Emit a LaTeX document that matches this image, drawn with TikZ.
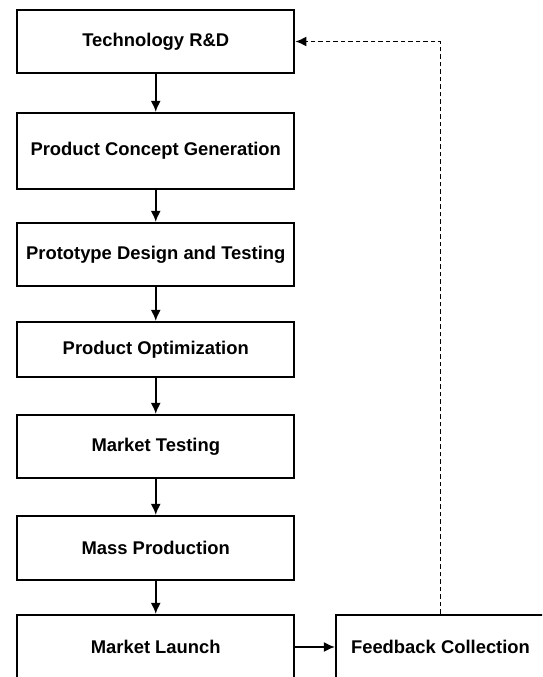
\documentclass[tikz,border=0pt]{standalone}
\usepackage{fontspec}
\setmainfont{Liberation Sans}
\usetikzlibrary{arrows.meta}

\begin{document}
\begin{tikzpicture}[x=1pt,y=-1pt,
        stage/.style={draw,line width=2.2pt,minimum width=277pt,inner sep=0pt,font=\fontsize{18.4}{22}\selectfont\bfseries},
        flow/.style={-{Latex[length=11pt,width=10pt]},line width=1.6pt},
        back/.style={flow,dash pattern=on 4.5pt off 3pt}]
        \clip (0,0) rectangle (542,677);

        \node[stage,minimum height=63pt] (RD) at (155.75,41.5) {Technology R\&D};
        \node[stage,minimum height=76pt] (CG) at (155.75,151) {Product Concept Generation};
        \node[stage,minimum height=63pt] (PD) at (155.75,254.5) {Prototype Design and Testing};
        \node[stage,minimum height=55pt] (PO) at (155.75,349.5) {Product Optimization};
        \node[stage,minimum height=63pt] (MT) at (155.75,446.5) {Market Testing};
        \node[stage,minimum height=64pt] (MP) at (155.75,548) {Mass Production};
        \node[stage,minimum height=64pt] (ML) at (155.75,647) {Market Launch};
        \node[stage,minimum height=64pt,minimum width=209pt] (FB) at (440.5,647) {Feedback Collection};


        \draw[flow] (RD) -- (CG);
        \draw[flow] (CG) -- (PD);
        \draw[flow] (PD) -- (PO);
        \draw[flow] (PO) -- (MT);
        \draw[flow] (MT) -- (MP);
        \draw[flow] (MP) -- (ML);

        \draw[flow] (ML) -- (FB);
        \draw[back] (FB.north) |- (RD.east);
    \end{tikzpicture}
\end{document}
